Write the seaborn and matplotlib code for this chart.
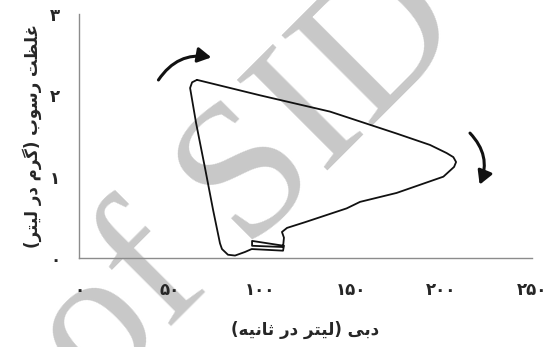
import matplotlib
matplotlib.use("Agg")
import matplotlib.pyplot as plt
import seaborn as sns
import pandas as pd

# discharge (L/s) and sediment concentration (g/L), in plotting order
discharge = [65.1, 99.9, 138.5, 175.3, 193.7, 202.9, 206.6, 208.1, 207.0,
             201.1, 175.3, 155.1, 147.7, 124.7, 114.8, 112.0, 113.1, 112.6,
             95.5, 95.5, 113.1, 112.6, 95.3, 91.6, 86.1, 82.2, 78.9, 77.8,
             74.0, 69.5, 64.6, 61.3, 62.4, 65.1]
concentration = [2.19, 2.00, 1.80, 1.53, 1.39, 1.29, 1.24, 1.18, 1.12,
                 1.00, 0.80, 0.69, 0.61, 0.44, 0.37, 0.32, 0.25, 0.135,
                 0.15, 0.21, 0.15, 0.09, 0.11, 0.074, 0.03, 0.04, 0.11, 0.18,
                 0.59, 1.11, 1.66, 2.09, 2.16, 2.19]

x_ticks = [0, 50, 100, 150, 200, 250]
x_ticklabels = ['۰', '۵۰', '۱۰۰', '۱۵۰', '۲۰۰', '۲۵۰']
y_ticks = [0, 1, 2, 3]
y_ticklabels = ['۰', '۱', '۲', '۳']
x_label = 'دبی (لیتر در ثانیه)'
y_label = 'غلظت رسوب (گرم در لیتر)'


# matplotlib has no Arabic shaping, so pick presentation forms by hand
# tuple = (isolated, final, initial, medial); None = letter does not join forward
FORMS = {
    'ا': (0xFE8D, 0xFE8E, None, None),
    'ب': (0xFE8F, 0xFE90, 0xFE91, 0xFE92),
    'ت': (0xFE95, 0xFE96, 0xFE97, 0xFE98),
    'ث': (0xFE99, 0xFE9A, 0xFE9B, 0xFE9C),
    'د': (0xFEA9, 0xFEAA, None, None),
    'ر': (0xFEAD, 0xFEAE, None, None),
    'س': (0xFEB1, 0xFEB2, 0xFEB3, 0xFEB4),
    'ظ': (0xFEC5, 0xFEC6, 0xFEC7, 0xFEC8),
    'غ': (0xFECD, 0xFECE, 0xFECF, 0xFED0),
    'ل': (0xFEDD, 0xFEDE, 0xFEDF, 0xFEE0),
    'م': (0xFEE1, 0xFEE2, 0xFEE3, 0xFEE4),
    'ن': (0xFEE5, 0xFEE6, 0xFEE7, 0xFEE8),
    'و': (0xFEED, 0xFEEE, None, None),
    'ه': (0xFEE9, 0xFEEA, 0xFEEB, 0xFEEC),
    'ی': (0xFEEF, 0xFEF0, 0xFEF3, 0xFEF4),
    'گ': (0xFB92, 0xFB93, 0xFB94, 0xFB95),
}


def farsi(text):
    out = []
    for i, ch in enumerate(text):
        if ch not in FORMS:
            out.append(ch)
            continue
        prev = text[i - 1] if i > 0 else ''
        nxt = text[i + 1] if i + 1 < len(text) else ''
        join_prev = prev in FORMS and FORMS[prev][2] is not None
        join_next = FORMS[ch][2] is not None and nxt in FORMS
        iso, fin, ini, med = FORMS[ch]
        if join_prev and join_next:
            code = med
        elif join_prev:
            code = fin
        elif join_next:
            code = ini
        else:
            code = iso
        out.append(chr(code))
    vis = ''.join(reversed(out))
    return vis.translate(str.maketrans('()', ')('))


sns.set_style("white")
plt.rcParams['font.family'] = ['DejaVu Sans']

df = pd.DataFrame({'q': discharge, 'c': concentration})

fig = plt.figure(figsize=(5.48, 3.47), dpi=100)
ax = fig.add_axes([0.1442, 0.2565, 0.8266, 0.7032])

# faint watermark, kept under the axes
fig.text(0.455, 0.475, 'of SID', family='Liberation Serif', fontsize=140,
         color='#c8c8c8', rotation=45, ha='center', va='center',
         rotation_mode='anchor', zorder=-1)
ax.patch.set_alpha(0)

sns.lineplot(data=df, x='q', y='c', sort=False, estimator=None,
             color='#111111', lw=1.3, ax=ax)

# direction arrows
arrow_style = '-|>,head_length=0.8,head_width=0.45'
ax.annotate('', xy=(74.5, 2.46), xytext=(43.0, 2.16),
            arrowprops=dict(arrowstyle=arrow_style, color='#111111', lw=2.2,
                            connectionstyle='arc3,rad=-0.35'))
ax.annotate('', xy=(220.5, 0.87), xytext=(214.7, 1.56),
            arrowprops=dict(arrowstyle=arrow_style, color='#111111', lw=2.2,
                            connectionstyle='arc3,rad=-0.35'))

ax.set_xlim(0, 250)
ax.set_ylim(0, 3)
ax.set_xticks(x_ticks)
ax.set_xticklabels(x_ticklabels, fontsize=12, fontweight='bold')
ax.set_yticks(y_ticks)
ax.set_yticklabels(y_ticklabels, fontsize=12, fontweight='bold')
ax.tick_params(axis='x', direction='out', length=4.3, width=1, color='#8c8c8c', pad=12)
ax.tick_params(axis='y', direction='out', length=3.6, width=1, color='#8c8c8c', pad=10)
ax.set_xlabel(farsi(x_label), fontsize=12, fontweight='bold', labelpad=16)
ax.set_ylabel(farsi(y_label), fontsize=12, fontweight='bold', labelpad=6)

for side in ['top', 'right']:
    ax.spines[side].set_visible(False)
for side in ['left', 'bottom']:
    ax.spines[side].set_color('#8c8c8c')
    ax.spines[side].set_linewidth(1)

plt.savefig('out.png', dpi=100)
plt.close()
